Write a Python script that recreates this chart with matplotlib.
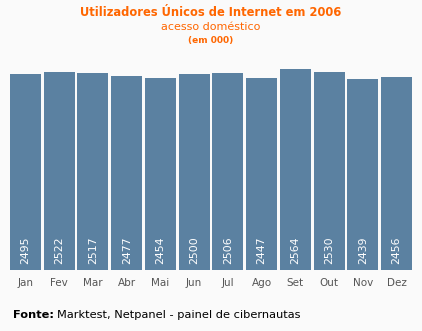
"""Utilizadores unicos de Internet em 2006 - bar chart (PNG)."""

import matplotlib

matplotlib.use("Agg")
import matplotlib.pyplot as plt
import numpy as np

months = ["Jan", "Fev", "Mar", "Abr", "Mai", "Jun",
          "Jul", "Ago", "Set", "Out", "Nov", "Dez"]
users = [2495, 2522, 2517, 2477, 2454, 2500,
         2506, 2447, 2564, 2530, 2439, 2456]

bg = "#fafafa"
bar_color = "#5b81a1"
orange = "#ff6600"

fig = plt.figure(figsize=(4.22, 3.31), dpi=100, facecolor=bg)
ax = fig.add_axes([0.0205, 0.184, 0.959, 0.64])
ax.set_facecolor(bg)

x = np.arange(len(months))
ax.bar(x, users, width=0.92, color=bar_color)
for xi, v in zip(x, users):
    ax.text(xi, 75, str(v), rotation=90, ha="center", va="bottom",
            color="white", fontsize=7.8)

ax.set_xlim(-0.5, len(months) - 0.5)
ax.set_ylim(0, 2700)
ax.set_xticks(x)
ax.set_xticklabels(months, fontsize=7.5, color="#555555")
ax.tick_params(axis="x", length=0, pad=6)
ax.set_yticks([])
for s in ax.spines.values():
    s.set_visible(False)

fig.text(0.5, 1 - 13 / 331, "Utilizadores Únicos de Internet em 2006",
         ha="center", va="center", color=orange, fontsize=8.3, fontweight="bold")
fig.text(0.5, 1 - 27 / 331, "acesso doméstico",
         ha="center", va="center", color=orange, fontsize=8)
fig.text(0.5, 1 - 40 / 331, "(em 000)",
         ha="center", va="center", color=orange, fontsize=6.5, fontweight="bold")

t = fig.text(13 / 422, 1 - 315 / 331, "Fonte:", ha="left", va="center",
             color="black", fontsize=8.2, fontweight="bold")
fig.canvas.draw()
bb = t.get_window_extent()
fig.text(bb.x1 / 422 + 0.008, 1 - 315 / 331, "Marktest, Netpanel - painel de cibernautas",
         ha="left", va="center", color="black", fontsize=8.2)

fig.savefig("out.png", dpi=100, facecolor=bg)
